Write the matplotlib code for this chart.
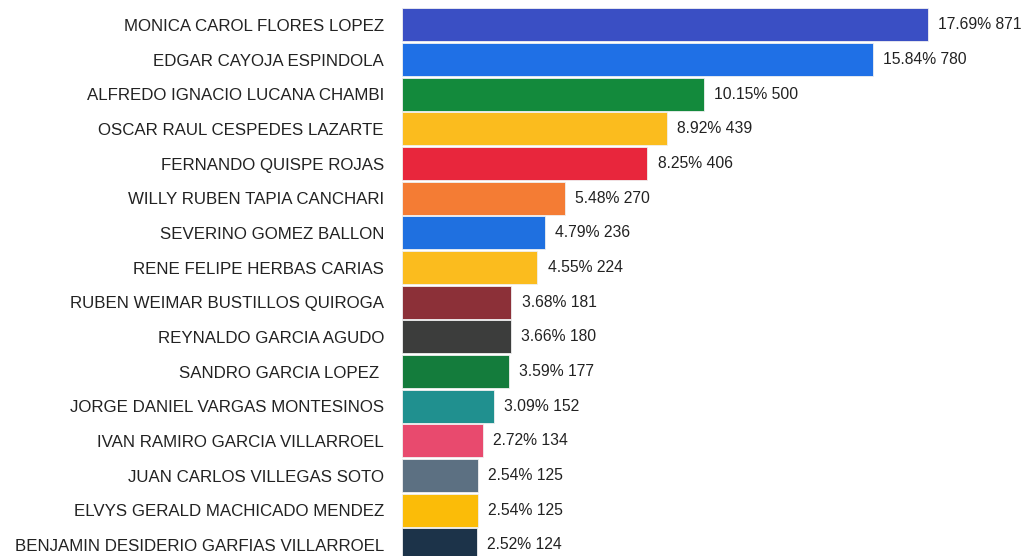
import matplotlib
matplotlib.use("Agg")
import matplotlib.pyplot as plt

names = [
    "MONICA CAROL FLORES LOPEZ",
    "EDGAR CAYOJA ESPINDOLA",
    "ALFREDO IGNACIO LUCANA CHAMBI",
    "OSCAR RAUL CESPEDES LAZARTE",
    "FERNANDO QUISPE ROJAS",
    "WILLY RUBEN TAPIA CANCHARI",
    "SEVERINO GOMEZ BALLON",
    "RENE FELIPE HERBAS CARIAS",
    "RUBEN WEIMAR BUSTILLOS QUIROGA",
    "REYNALDO GARCIA AGUDO",
    "SANDRO GARCIA LOPEZ ",
    "JORGE DANIEL VARGAS MONTESINOS",
    "IVAN RAMIRO GARCIA VILLARROEL",
    "JUAN CARLOS VILLEGAS SOTO",
    "ELVYS GERALD MACHICADO MENDEZ",
    "BENJAMIN DESIDERIO GARFIAS VILLARROEL",
]
votes = [871, 780, 500, 439, 406, 270, 236, 224, 181, 180, 177, 152, 134, 125, 125, 124]
percents = ["17.69%", "15.84%", "10.15%", "8.92%", "8.25%", "5.48%", "4.79%", "4.55%",
            "3.68%", "3.66%", "3.59%", "3.09%", "2.72%", "2.54%", "2.54%", "2.52%"]
colors = ["#3a4fc4", "#1f70e6", "#138a3c", "#fbbc1e", "#e8263c", "#f47c34", "#1f70e0", "#fbbc1e",
          "#8c3038", "#3c3d3c", "#147c3c", "#20908f", "#e84a6e", "#5c7082", "#fbbc08", "#1c3349"]

font = "Liberation Sans"

fig = plt.figure(figsize=(10.26, 5.56), dpi=100)
ax = fig.add_axes([402 / 1026, 0, 624 / 1026, 1])

ypos = list(range(len(names)))
ax.barh(ypos, votes, height=0.95, color=colors, edgecolor="#f0f0f0", linewidth=0.6)

for y, v, p in zip(ypos, votes, percents):
    ax.text(v + 17, y, f"{p} {v}", va="center", ha="left", fontsize=11.3,
            family=font, color="#222222")

ax.set_xlim(0, 1033)
ax.set_ylim(15.32, -0.72)
ax.set_yticks(ypos)
ax.set_yticklabels(names, fontsize=12.2, family=font, color="#222222")
ax.tick_params(axis="y", length=0, pad=13)
ax.set_xticks([])
for s in ax.spines.values():
    s.set_visible(False)

fig.savefig("out.png", dpi=100)
